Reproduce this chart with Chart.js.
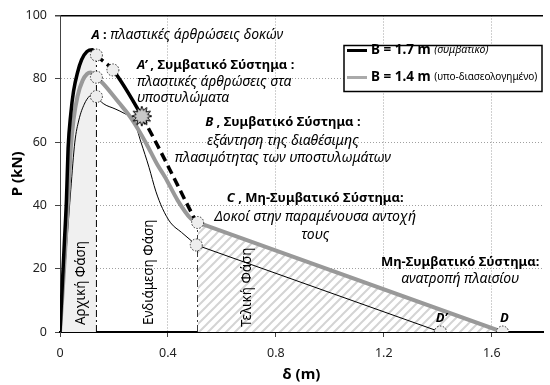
<!DOCTYPE html>
<html>
<head>
<meta charset="utf-8">
<script src="https://cdn.jsdelivr.net/npm/chart.js@4.4.0/dist/chart.umd.min.js"></script>
<style>
  html, body { margin: 0; padding: 0; background: #fff; }
  #wrap { width: 550px; height: 385px; }
</style>
</head>
<body>
<div id="wrap"><canvas id="pushoverChart"></canvas></div>
<script>
const FONT = '"Noto Sans", sans-serif';

// B = 1.7 m (conventional) - up to point C
const convX = [0, 0.008, 0.016, 0.024, 0.03, 0.04, 0.05, 0.065, 0.08, 0.1, 0.12, 0.135, 0.196, 0.303, 0.505];
const convY = [0, 14, 28, 42, 58, 69, 76, 82, 86, 88.6, 89.2, 87.5, 82.8, 68.2, 34.7];
// B = 1.4 m (under-designed)
const underX = [0, 0.01, 0.02, 0.03, 0.04, 0.05, 0.065, 0.084, 0.1, 0.113, 0.135, 0.16, 0.218, 0.26, 0.29, 0.32, 0.36, 0.389, 0.436, 0.484, 0.51];
const underY = [0, 13, 27, 42, 58, 67, 74.5, 79.5, 81.5, 82, 80.5, 78.5, 72.5, 68, 64, 59.5, 53, 49, 41.6, 35.9, 34.5];
const underTailX = [0.51, 0.53, 1.64];
const underTailY = [34.5, 34, 0];
// third (thin) curve
const thinX = [0, 0.012, 0.025, 0.04, 0.055, 0.07, 0.09, 0.11, 0.127, 0.135, 0.16, 0.204, 0.24, 0.273, 0.3, 0.33, 0.355, 0.38, 0.41, 0.45, 0.505];
const thinY = [0, 13, 28, 45, 60, 67, 72, 74.6, 75.4, 74.4, 72.2, 70.5, 69, 67, 60, 52, 44.5, 39, 34.5, 31.5, 27.5];
const thinTailX = [0.505, 1.41];
const thinTailY = [27.5, 0];
// marked points (A, A', C, D', D) and failure point B
const markX = [0.135, 0.196, 0.135, 0.135, 0.51, 0.505, 1.41, 1.64];
const markY = [87.5, 82.8, 80.5, 74.4, 34.6, 27.5, 0, 0];
const failX = [0.303];
const failY = [68.2];
// phase limits
const phaseX = [0.135, 0.51];
const phaseTop = [87.5, 34.6];

const xTicks = [0, 0.4, 0.8, 1.2, 1.6];
const yTicks = [0, 20, 40, 60, 80, 100];

function pts(xs, ys) { return xs.map((x, i) => ({ x: x, y: ys[i] })); }

// hatch pattern for the final phase
const hatchCanvas = document.createElement('canvas');
hatchCanvas.width = 9; hatchCanvas.height = 9;
(function() {
    const c = hatchCanvas.getContext('2d');
    c.fillStyle = '#fff';
    c.fillRect(0, 0, 9, 9);
    c.strokeStyle = '#d4d4d4';
    c.lineWidth = 2;
    c.beginPath();
    c.moveTo(-1, 10); c.lineTo(10, -1);
    c.moveTo(-1, 1); c.lineTo(1, -1);
    c.moveTo(8, 10); c.lineTo(10, 8);
    c.stroke();
})();
const hatch = hatchCanvas.getContext('2d').createPattern(hatchCanvas, 'repeat');

// burst symbol for point B
const burst = document.createElement('canvas');
burst.width = 22; burst.height = 22;
(function() {
    const c = burst.getContext('2d');
    c.beginPath();
    for (let i = 0; i < 24; i++) {
        const r = i % 2 === 0 ? 10 : 6;
        const a = i * Math.PI / 12;
        c.lineTo(11 + r * Math.cos(a), 11 + r * Math.sin(a));
    }
    c.closePath();
    c.fillStyle = '#c8c8c8';
    c.fill();
    c.strokeStyle = '#000';
    c.lineWidth = 1;
    c.stroke();
})();

const BI = 'italic bold 13px ' + FONT;
const B = 'bold 13px ' + FONT;
const I = 'italic 14px ' + FONT;
const notes = [
    { x: 0.117, y: 93.7, align: 'left', runs: [['A', BI], [' : ', B], ['πλαστικές άρθρώσεις δοκών', I]] },
    { x: 0.285, y: 84.2, align: 'left', runs: [['A’', BI], [' , Συμβατικό Σύστημα :', B]] },
    { x: 0.285, y: 78.9, align: 'left', runs: [['πλαστικές άρθρώσεις στα', I]] },
    { x: 0.285, y: 73.8, align: 'left', runs: [['υποστυλώματα', I]] },
    { x: 0.826, y: 66.2, align: 'center', runs: [['B', BI], [' , Συμβατικό Σύστημα :', B]] },
    { x: 0.826, y: 60.3, align: 'center', runs: [['εξάντηση της διαθέσιμης', I]] },
    { x: 0.826, y: 54.9, align: 'center', runs: [['πλασιμότητας των υποστυλωμάτων', I]] },
    { x: 0.946, y: 42.3, align: 'center', runs: [['C', BI], [' , Μη-Συμβατικό Σύστημα:', B]] },
    { x: 0.946, y: 36.3, align: 'center', runs: [['Δοκοί στην παραμένουσα αντοχή', I]] },
    { x: 0.946, y: 30.6, align: 'center', runs: [['τους', I]] },
    { x: 1.483, y: 22.1, align: 'center', runs: [['Μη-Συμβατικό Σύστημα:', B]] },
    { x: 1.483, y: 16.7, align: 'center', runs: [['ανατροπή πλαισίου', I]] },
    { x: 1.414, y: 4.4, align: 'center', runs: [['D’', BI]] },
    { x: 1.647, y: 4.4, align: 'center', runs: [['D', BI]] }
];
const phaseNotes = [
    { x: 0.079, y: 2.2, text: 'Αρχική Φάση' },
    { x: 0.329, y: 2.2, text: 'Ενδιάμεση Φάση' },
    { x: 0.694, y: 1.6, text: 'Τελική Φάση' }
];

function drawRuns(ctx, runs, x, y, align) {
    let total = 0;
    runs.forEach(function(r) { ctx.font = r[1]; total += ctx.measureText(r[0]).width; });
    let cx = align === 'center' ? x - total / 2 : x;
    runs.forEach(function(r) {
        ctx.font = r[1];
        ctx.fillText(r[0], cx, y);
        cx += ctx.measureText(r[0]).width;
    });
}

const annotations = {
    id: 'annotations',
    beforeDatasetDraw: function(chart, args) {
        if (chart.data.datasets[args.index].dottedPoints) chart.ctx.setLineDash([1.5, 1.5]);
    },
    afterDatasetDraw: function(chart) {
        chart.ctx.setLineDash([]);
    },
    afterDatasetsDraw: function(chart) {
        const ctx = chart.ctx;
        const xs = chart.scales.x, ys = chart.scales.y;
        ctx.save();
        ctx.fillStyle = '#000';
        ctx.textBaseline = 'middle';
        ctx.textAlign = 'left';
        notes.forEach(function(n) {
            drawRuns(ctx, n.runs, xs.getPixelForValue(n.x), ys.getPixelForValue(n.y), n.align);
        });
        ctx.font = '13.5px ' + FONT;
        phaseNotes.forEach(function(n) {
            ctx.save();
            ctx.translate(xs.getPixelForValue(n.x), ys.getPixelForValue(n.y));
            ctx.rotate(-Math.PI / 2);
            ctx.fillText(n.text, 0, 0);
            ctx.restore();
        });

        // legend box
        const area = chart.chartArea;
        const lx = area.right - 199, ly = area.top + 30, lw = 198, lh = 46;
        ctx.fillStyle = '#fff';
        ctx.fillRect(lx, ly, lw, lh);
        ctx.strokeStyle = '#000';
        ctx.lineWidth = 1.5;
        ctx.strokeRect(lx, ly, lw, lh);
        ctx.lineWidth = 3;
        ctx.beginPath(); ctx.moveTo(lx + 3, ly + 5); ctx.lineTo(lx + 23, ly + 5); ctx.stroke();
        ctx.strokeStyle = '#aaa';
        ctx.beginPath(); ctx.moveTo(lx + 3, ly + 32); ctx.lineTo(lx + 23, ly + 32); ctx.stroke();
        ctx.fillStyle = '#000';
        drawRuns(ctx, [['B = 1.7 m ', 'bold 13.5px ' + FONT], ['(συμβατικό)', 'italic 10.5px ' + FONT]], lx + 27, ly + 5, 'left');
        drawRuns(ctx, [['B = 1.4 m ', 'bold 13.5px ' + FONT], ['(υπο-διασεολογημένο)', '10px ' + FONT]], lx + 27, ly + 32, 'left');
        ctx.restore();
    }
};

// dashed parts of the B = 1.7 m curve: A -> A' and B -> C
function convDash(ctx) {
    const i = ctx.p0DataIndex;
    return (i === 11 || i === 13) ? [9, 5] : undefined;
}

const ctxEl = document.getElementById('pushoverChart');
new Chart(ctxEl, {
    type: 'line',
    data: {
        datasets: [
            {
                data: pts(markX, markY),
                showLine: false,
                dottedPoints: true,
                pointRadius: 6,
                pointBackgroundColor: '#eeeeee',
                pointBorderColor: '#333',
                pointBorderWidth: 1,
                order: 0
            },
            {
                data: pts(failX, failY),
                showLine: false,
                pointStyle: burst,
                order: 1
            },
            {
                data: pts(convX, convY),
                borderColor: '#000',
                borderWidth: 3.5,
                pointRadius: 0,
                cubicInterpolationMode: 'monotone',
                segment: { borderDash: convDash },
                order: 2
            },
            {
                data: pts(underX, underY),
                borderColor: '#999',
                borderWidth: 4,
                pointRadius: 0,
                cubicInterpolationMode: 'monotone',
                order: 3
            },
            {
                data: pts(thinX, thinY),
                borderColor: '#000',
                borderWidth: 1,
                pointRadius: 0,
                cubicInterpolationMode: 'monotone',
                order: 4
            },
            {
                data: pts(thinTailX, thinTailY),
                borderColor: '#000',
                borderWidth: 1,
                pointRadius: 0,
                order: 4
            },
            {
                data: pts(underTailX, underTailY),
                borderColor: '#999',
                borderWidth: 4,
                pointRadius: 0,
                fill: 'origin',
                backgroundColor: hatch,
                order: 5
            },
            {
                data: pts([phaseX[0], phaseX[0]], [0, phaseTop[0]]),
                borderColor: '#000',
                borderWidth: 1,
                borderDash: [7, 3, 2, 3],
                pointRadius: 0,
                order: 6
            },
            {
                data: pts([phaseX[1], phaseX[1]], [0, phaseTop[1]]),
                borderColor: '#000',
                borderWidth: 1,
                borderDash: [7, 3, 2, 3],
                pointRadius: 0,
                order: 6
            },
            {
                // initial phase shading under the B = 1.7 m curve
                data: pts(convX.slice(0, 12), convY.slice(0, 12)),
                borderWidth: 0,
                pointRadius: 0,
                cubicInterpolationMode: 'monotone',
                fill: 'origin',
                backgroundColor: '#f0f0f0',
                order: 7
            }
        ]
    },
    options: {
        responsive: true,
        maintainAspectRatio: false,
        animation: false,
        layout: { padding: { left: 0, top: 15, right: 1, bottom: 0 } },
        plugins: {
            legend: { display: false },
            tooltip: { enabled: false }
        },
        scales: {
            x: {
                type: 'linear',
                min: 0,
                max: 1.79,
                afterFit: function(scale) { scale.height = 53; },
                afterBuildTicks: function(scale) {
                    scale.ticks = xTicks.map(function(v) { return { value: v }; });
                },
                ticks: {
                    includeBounds: false,
                    padding: 9,
                    color: '#222',
                    font: { family: FONT, size: 12.5 },
                    callback: function(v) { return String(+v.toFixed(1)); }
                },
                grid: {
                    color: '#a0a0a0',
                    tickLength: 5,
                    tickColor: '#444',
                    tickBorderDash: []
                },
                border: { color: '#000', width: 2, dash: [1, 2] },
                title: {
                    display: true,
                    text: 'δ (m)',
                    color: '#000',
                    font: { family: FONT, size: 15, weight: 'bold' },
                    padding: { top: 1.5, bottom: 1 }
                }
            },
            y: {
                min: 0,
                max: 100,
                afterFit: function(scale) { scale.width = 60; },
                afterBuildTicks: function(scale) {
                    scale.ticks = yTicks.map(function(v) { return { value: v }; });
                },
                ticks: {
                    padding: 8,
                    color: '#222',
                    font: { family: FONT, size: 12.5 }
                },
                grid: {
                    color: function(c) { return c.tick && c.tick.value === 100 ? '#000' : '#a0a0a0'; },
                    lineWidth: function(c) { return c.tick && c.tick.value === 100 ? 1.5 : 1; },
                    tickLength: 5,
                    tickColor: '#444',
                    tickBorderDash: []
                },
                border: {
                    color: '#444',
                    width: 1,
                    dash: function(c) { return c.tick && c.tick.value === 100 ? [] : [1, 2]; }
                },
                title: {
                    display: true,
                    text: 'P (kN)',
                    color: '#000',
                    font: { family: FONT, size: 15, weight: 'bold' },
                    padding: { top: 9, bottom: 0 }
                }
            }
        }
    },
    plugins: [annotations]
});
</script>
</body>
</html>
